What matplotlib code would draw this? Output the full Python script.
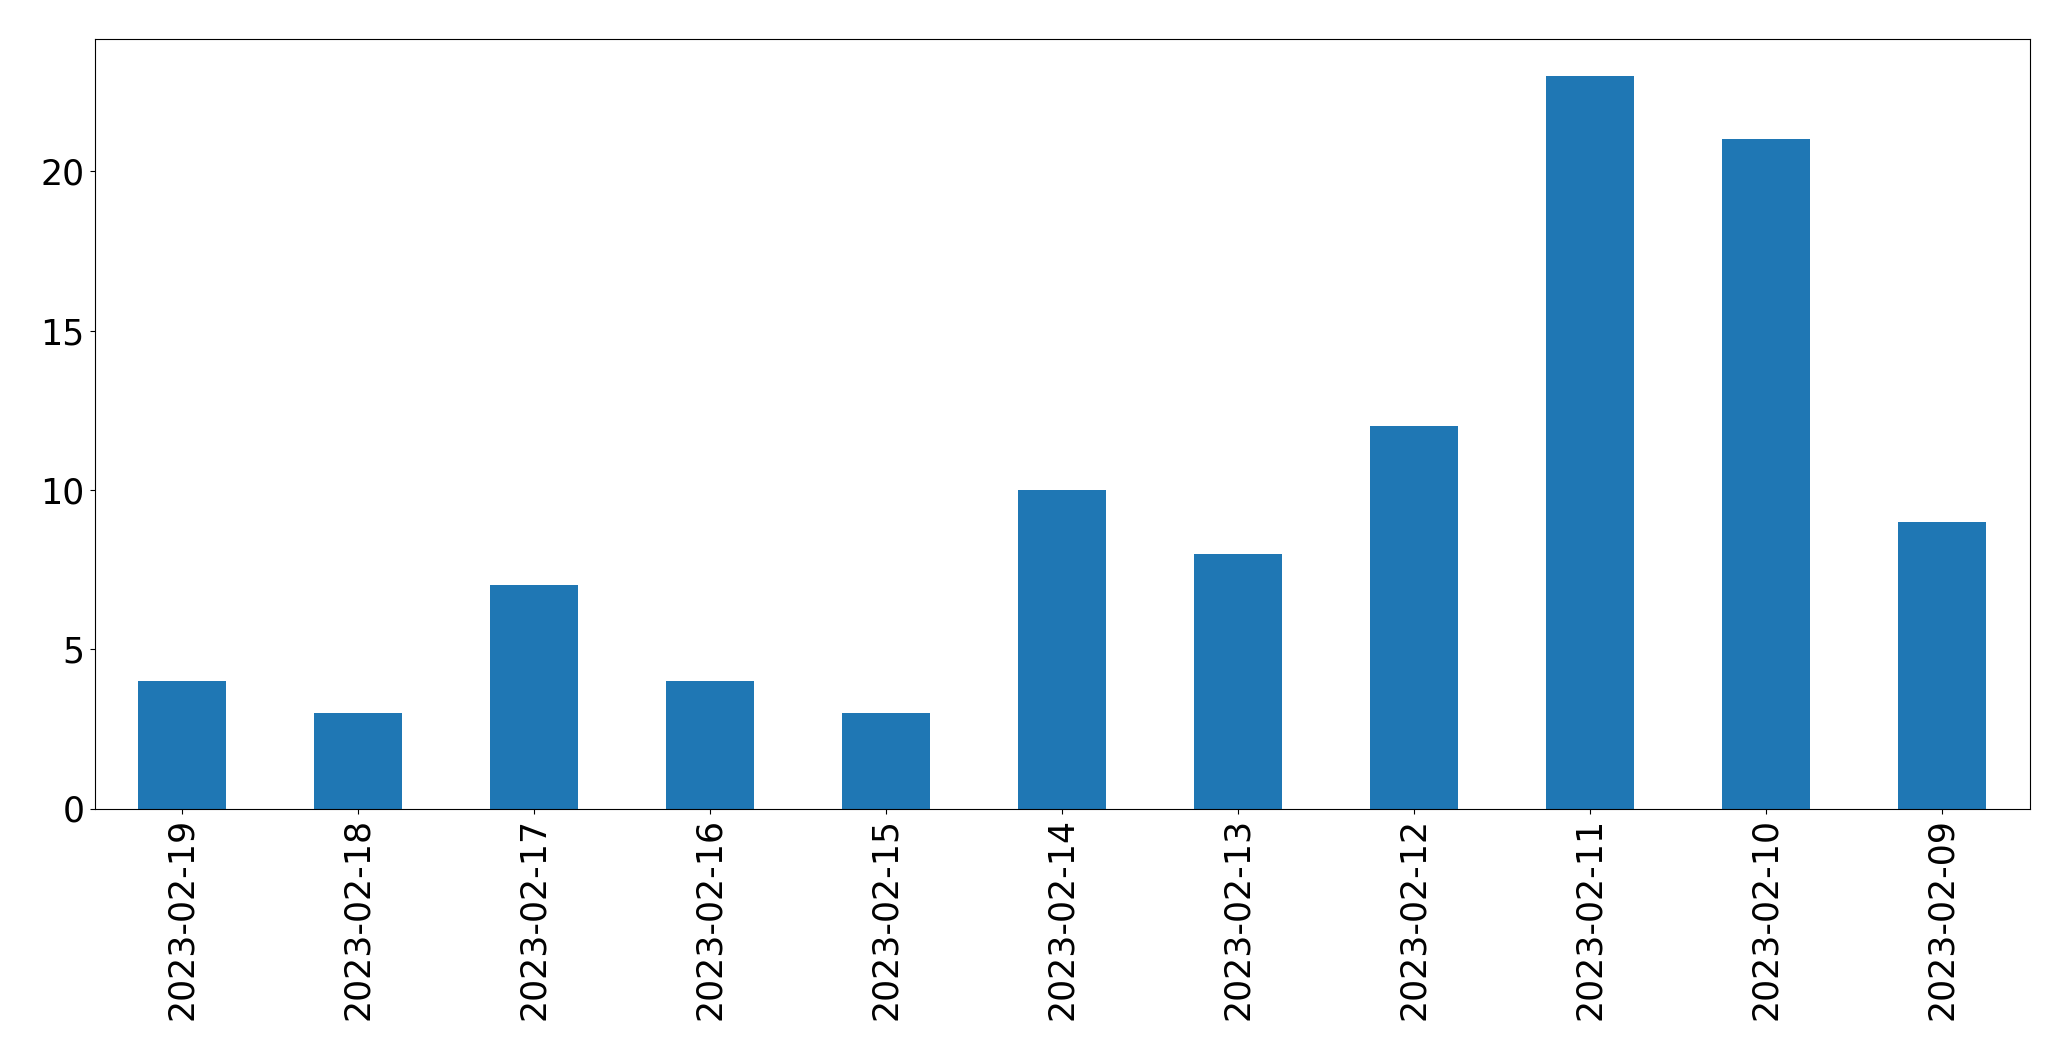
import matplotlib
matplotlib.use('Agg')
import matplotlib.pyplot as plt
import numpy as np

dates = ['2023-02-19', '2023-02-18', '2023-02-17', '2023-02-16', '2023-02-15',
         '2023-02-14', '2023-02-13', '2023-02-12', '2023-02-11', '2023-02-10',
         '2023-02-09']
counts = [4, 3, 7, 4, 3, 10, 8, 12, 23, 21, 9]


def plot_counts(labels, values):
    """ Bar chart of daily counts, pandas-style """

    fig = plt.figure(figsize=(20.71, 10.61), dpi=100)
    ax = fig.add_axes([94.5 / 2071, 1 - 808.5 / 1061,
                       (2030 - 94.5) / 2071, (808.5 - 39) / 1061])
    x = np.arange(len(labels))
    ax.bar(x, values, width=0.5, color='#1f77b4')
    ax.set_xlim(-0.5, len(labels) - 0.5)
    ax.set_ylim(0, max(values) * 1.05)
    ax.set_xticks(x)
    ax.set_xticklabels(labels, rotation=90)
    ax.set_yticks([0, 5, 10, 15, 20])
    ax.tick_params(labelsize=25)
    fig.savefig('out.png', dpi=100)


plot_counts(dates, counts)
